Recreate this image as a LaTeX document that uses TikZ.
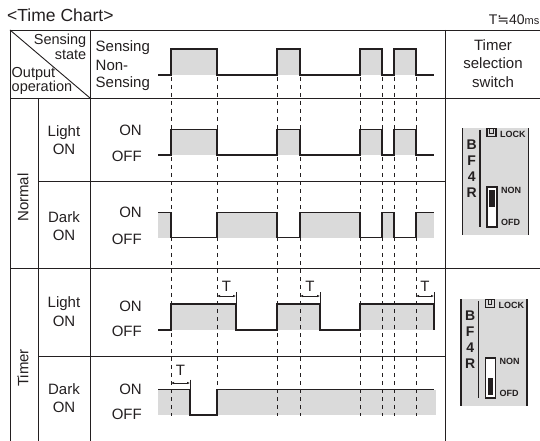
\documentclass[tikz,border=0pt]{standalone}
\usepackage{fontspec}
\setmainfont{Liberation Sans}
\newfontfamily\symfont{DejaVu Sans}
\usetikzlibrary{arrows.meta}
\definecolor{lncol}{RGB}{35,31,32}
\definecolor{fillgray}{RGB}{218,218,218}
\tikzset{
  gridline/.style={line width=0.9pt, lncol},
  wave/.style={line width=1.5pt, lncol},
  wavefill/.style={fill=fillgray, draw=none},
  edgeline/.style={line width=0.6pt, lncol, dash pattern=on 4pt off 4pt},
  tarrow/.style={{Latex[length=3pt,width=2.6pt]}-{Latex[length=3pt,width=2.6pt]}, line width=0.6pt, lncol},
  tickline/.style={line width=0.6pt, lncol},
  lbl/.style={font=\fontsize{15}{18.5}\selectfont, inner sep=0pt, text=lncol},
  hdr/.style={font=\fontsize{14.5}{15}\selectfont, inner sep=0pt, text=lncol},
  swtext/.style={font=\bfseries\fontsize{9}{10}\selectfont, inner sep=0pt, text=lncol},
  swletter/.style={font=\bfseries\fontsize{14}{15}\selectfont, inner sep=0pt, text=lncol}
}
% timer selection switch: #1,#2 top left, #3 top of dark slider, #4 name
\newcommand{\bfswitch}[4]{%
  \begin{scope}[shift={(#1,#2)}]
    \fill[fillgray] (0,0) rectangle (66,107);
    \draw[line width=1.8pt, lncol] (0,0) -- (0,107);
    \draw[line width=1.8pt, lncol] (17.5,2) -- (17.5,99);
    \draw[line width=1.3pt, lncol] (66,0) -- (66,107);
    \node[swletter] (#4B) at (9.2,17) {B};
    \node[swletter] (#4F) at (9.2,33) {F};
    \node[swletter] (#4four) at (9.2,49) {4};
    \node[swletter] (#4R) at (9.2,64.5) {R};
    \draw[line width=1.2pt, lncol] (24.5,0.6) rectangle (33.5,8.8);
    \draw[line width=1.1pt, lncol] (27.3,0.6) -- (27.3,5.8) -- (30.7,5.8) -- (30.7,0.6);
    \node[swtext, anchor=west] (#4lock) at (37.5,6) {LOCK};
    \draw[line width=1.4pt, lncol, fill=white] (24.5,59) rectangle (34.5,99);
    \fill[lncol] (26.8,#3) rectangle (32.2,#3+17);
    \node[swtext, anchor=west] (#4non) at (38.5,62.5) {NON};
    \node[swtext, anchor=west] (#4ofd) at (38.5,94) {OFD};
  \end{scope}}

\begin{document}
\begin{tikzpicture}[x=1pt, y=-1pt]
  \useasboundingbox (0,0) rectangle (540,441);

  \node[anchor=base west, inner sep=0pt, font=\fontsize{17.5}{20}\selectfont, text=lncol] (title) at (7,21.7) {<Time Chart>};
  \node[anchor=base east, inner sep=0pt, font=\fontsize{14}{16}\selectfont, text=lncol] (tval) at (539.5,25) {T{\symfont ≒}40{\fontsize{11}{12}\selectfont ms}};

  % gray areas of the waveforms
  \foreach \a/\b in {171/217, 277/300, 360/382, 394/416} {
    \fill[wavefill] (\a,49) rectangle (\b,75);
    \fill[wavefill] (\a,129.5) rectangle (\b,155);
  }
  \foreach \a/\b in {158/171, 217/277, 300/360, 382/394, 416/434}
    \fill[wavefill] (\a,212.5) rectangle (\b,237.5);
  \foreach \a/\b in {171/236, 277/320, 360/434}
    \fill[wavefill] (\a,304) rectangle (\b,330);
  \foreach \a/\b in {158/190, 217/436}
    \fill[wavefill] (\a,389.5) rectangle (\b,415);

  % table
  \draw[gridline] (10,30) -- (540,30);
  \draw[gridline] (10,98) -- (540,98);
  \draw[gridline] (10,268) -- (540,268);
  \draw[gridline] (38,181) -- (445.5,181);
  \draw[gridline] (38,356) -- (445.5,356);
  \draw[gridline] (10,30) -- (10,441);
  \draw[gridline] (38,98) -- (38,441);
  \draw[gridline] (90,30) -- (90,441);
  \draw[gridline] (445.5,30) -- (445.5,441);
  \draw[gridline] (10,30) -- (90,98);

  % header
  \node[hdr, anchor=base east] (hsens) at (86.5,45) {Sensing};
  \node[hdr, anchor=base east] (hstate) at (86.5,59.5) {state};
  \node[hdr, anchor=base west] (hout) at (11.5,78) {Output};
  \node[hdr, anchor=base west] (hoper) at (11.5,91.5) {operation};
  \node[lbl, anchor=base west] (ssens) at (95.5,51.5) {Sensing};
  \node[lbl, anchor=base west] (snon) at (95.5,70.5) {Non-};
  \node[lbl, anchor=base west] (snsens) at (95.5,88) {Sensing};
  \node[lbl, align=center] (swhead) at (493,63.5) {Timer\\selection\\switch};

  % row labels
  \node[lbl, rotate=90] (normal) at (23,197.5) {Normal};
  \node[lbl, rotate=90] (timer) at (23,368) {Timer};
  \node[lbl, align=center] (nlight) at (64,140) {Light\\ON};
  \node[lbl, align=center] (ndark) at (64,226) {Dark\\ON};
  \node[lbl, align=center] (tlight) at (64,311.7) {Light\\ON};
  \node[lbl, align=center] (tdark) at (64,398.3) {Dark\\ON};
  \node[lbl, anchor=east] (nlon) at (142,130) {ON};
  \node[lbl, anchor=east] (nloff) at (142,156) {OFF};
  \node[lbl, anchor=east] (ndon) at (142,212.5) {ON};
  \node[lbl, anchor=east] (ndoff) at (142,239) {OFF};
  \node[lbl, anchor=east] (tlon) at (142,306) {ON};
  \node[lbl, anchor=east] (tloff) at (142,331) {OFF};
  \node[lbl, anchor=east] (tdon) at (142,389) {ON};
  \node[lbl, anchor=east] (tdoff) at (142,414) {OFF};

  % edges of the sensing signal
  \foreach \x in {171,217,277,300,360,382,394,416}
    \draw[edgeline] (\x,77) -- (\x,416);

  % waveforms
  \draw[wave] (158,75) -| (171,49) -| (217,75) -| (277,49) -| (300,75) -| (360,49) -| (382,75) -| (394,49) -| (416,75) -- (434,75);
  \draw[wave] (158,155) -| (171,129.5) -| (217,155) -| (277,129.5) -| (300,155) -| (360,129.5) -| (382,155) -| (394,129.5) -| (416,155) -- (434,155);
  \draw[wave] (158,212.5) -| (171,237.5) -| (217,212.5) -| (277,237.5) -| (300,212.5) -| (360,237.5) -| (382,212.5) -| (394,237.5) -| (416,212.5) -- (434,212.5);
  \draw[wave] (158,330) -| (171,304) -| (236,330) -| (277,304) -| (320,330) -| (360,304) -| (434,330);
  \draw[wave] (158,389.5) -| (190,415) -| (217,389.5) -- (434,389.5);

  % off delay T
  \coordinate (ta1) at (217,296); \coordinate (tb1) at (236,296);
  \coordinate (ta2) at (300,296); \coordinate (tb2) at (320,296);
  \coordinate (ta3) at (416,296); \coordinate (tb3) at (434,296);
  \coordinate (ta4) at (171,383); \coordinate (tb4) at (190,383);
  \draw[tickline] (236,292) -- (236,304);
  \draw[tickline] (320,292) -- (320,304);
  \draw[tickline] (434,292) -- (434,304);
  \draw[tickline] (190,379.5) -- (190,389.5);
  \draw[tarrow] (ta1) -- (tb1);
  \draw[tarrow] (ta2) -- (tb2);
  \draw[tarrow] (ta3) -- (tb3);
  \draw[tarrow] (ta4) -- (tb4);
  \node[lbl] (tlab1) at (226.5,286) {T};
  \node[lbl] (tlab2) at (310,286) {T};
  \node[lbl] (tlab3) at (425,286) {T};
  \node[lbl] (tlab4) at (180.5,370.5) {T};

  % switches
  \bfswitch{462.5}{128}{62}{nsw}
  \bfswitch{461}{299}{79}{tsw}
\end{tikzpicture}
\end{document}
